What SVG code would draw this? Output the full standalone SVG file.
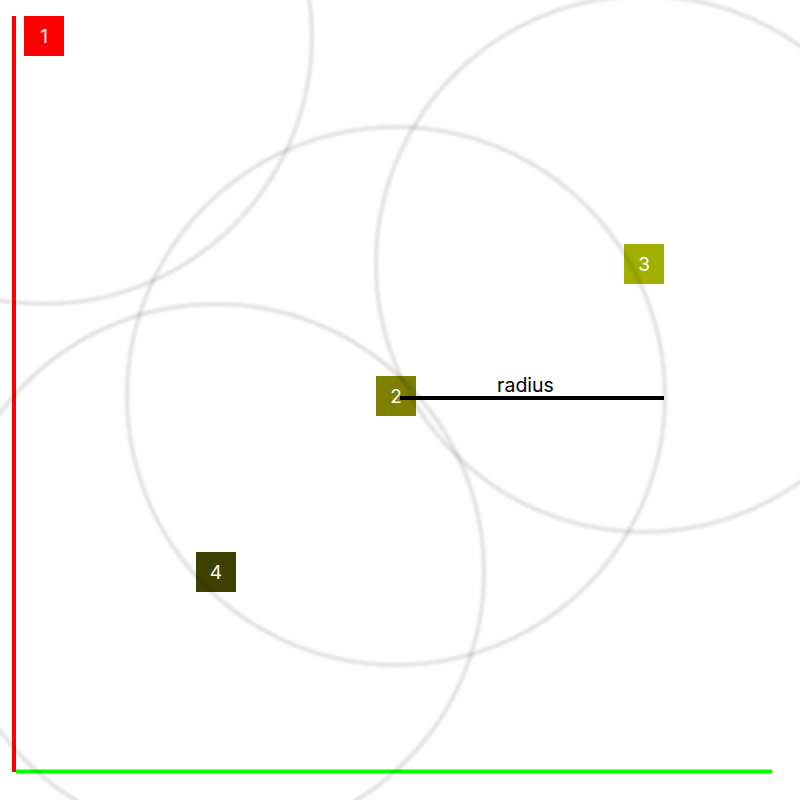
<svg xmlns="http://www.w3.org/2000/svg" width="800" height="800" viewBox="0 0 800 800">
  <defs>
    <filter id="blur" x="-10%" y="-10%" width="120%" height="120%">
      <feGaussianBlur stdDeviation="1.8"/>
    </filter>
  </defs>
  <style>
    .node rect { stroke: none; }
    .node text { font-family: Inter, "Noto Sans", "DejaVu Sans", sans-serif; font-size: 19px; fill: #ffffff; text-anchor: middle; }
    .label { font-family: Inter, "Noto Sans", "DejaVu Sans", sans-serif; font-size: 19.5px; fill: #000000; text-anchor: middle; }
    .ring { fill: none; stroke: #000000; stroke-opacity: 0.12; stroke-width: 4; filter: url(#blur); }
  </style>
  <rect width="800" height="800" fill="#ffffff"/>

  <g id="axes">
    <line x1="14" y1="16" x2="14" y2="772" stroke="#ff0000" stroke-width="4"/>
    <line x1="16" y1="771.5" x2="772" y2="771.5" stroke="#00ff00" stroke-width="4"/>
  </g>

  <g id="node1" class="node">
    <rect x="24" y="16" width="40" height="40" fill="#ff0000"/>
    <text x="44" y="43">1</text>
  </g>
  <g id="node2" class="node">
    <rect x="376" y="376" width="40" height="40" fill="#808000"/>
    <text x="396" y="403">2</text>
  </g>
  <g id="node3" class="node">
    <rect x="624" y="244" width="40" height="40" fill="#a0b000"/>
    <text x="644" y="271">3</text>
  </g>
  <g id="node4" class="node">
    <rect x="196" y="552" width="40" height="40" fill="#404000"/>
    <text x="216" y="579">4</text>
  </g>

  <g id="connectors">
    <line x1="400" y1="398" x2="664" y2="398" stroke="#000000" stroke-width="4"/>
    <text class="label" x="525.5" y="391.5">radius</text>
  </g>

  <g id="rings">
    <circle class="ring" cx="44" cy="36" r="268"/>
    <circle class="ring" cx="396" cy="396" r="269"/>
    <circle class="ring" cx="644" cy="264" r="268"/>
    <circle class="ring" cx="216" cy="572" r="268"/>
  </g>
</svg>
